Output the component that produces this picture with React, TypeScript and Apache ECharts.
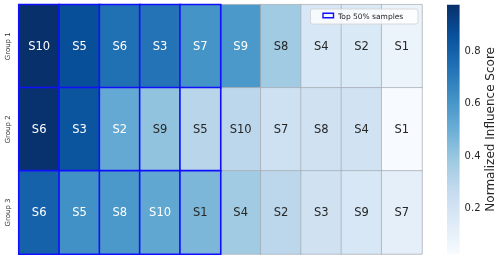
import React, { useEffect, useRef } from "react";
import * as echarts from "echarts";

const groups = ["Group 1", "Group 2", "Group 3"];
const samplesG1 = ["S10", "S5", "S6", "S3", "S7", "S9", "S8", "S4", "S2", "S1"];
const scoresG1 = [0.973, 0.86, 0.74, 0.73, 0.61, 0.59, 0.375, 0.17, 0.16, 0.08];
const samplesG2 = ["S6", "S3", "S2", "S9", "S5", "S10", "S7", "S8", "S4", "S1"];
const scoresG2 = [0.965, 0.84, 0.52, 0.41, 0.3, 0.29, 0.22, 0.21, 0.205, 0.024];
const samplesG3 = ["S6", "S5", "S8", "S10", "S1", "S4", "S2", "S3", "S9", "S7"];
const scoresG3 = [0.79, 0.62, 0.59, 0.53, 0.46, 0.37, 0.29, 0.21, 0.175, 0.11];
const topCount = 5;
const colorbarTicks = [0.2, 0.4, 0.6, 0.8];
const scoreMin = 0.024;
const scoreMax = 0.973;
const colorbarTitle = "Normalized Influence Score";
const legendLabel = "Top 50% samples";

const FONT = "DejaVu Sans";
const BLUES = ["#f7fbff", "#deebf7", "#c6dbef", "#9ecae1", "#6baed6", "#4292c6", "#2171b5", "#08519c", "#08306b"];

function hexToRgb(h: string) {
  return [parseInt(h.slice(1, 3), 16), parseInt(h.slice(3, 5), 16), parseInt(h.slice(5, 7), 16)];
}
function bluesAt(v: number) {
  let t = (v - scoreMin) / (scoreMax - scoreMin);
  t = Math.max(0, Math.min(1, t));
  const p = t * (BLUES.length - 1);
  const i = Math.min(BLUES.length - 2, Math.floor(p));
  const f = p - i;
  const a = hexToRgb(BLUES[i]);
  const b = hexToRgb(BLUES[i + 1]);
  return a.map((c, k) => c + (b[k] - c) * f);
}
function textColorFor(v: number) {
  const rgb = bluesAt(v).map((c) => {
    const s = c / 255;
    return s <= 0.03928 ? s / 12.92 : Math.pow((s + 0.055) / 1.055, 2.4);
  });
  const lum = 0.2126 * rgb[0] + 0.7152 * rgb[1] + 0.0722 * rgb[2];
  return lum > 0.408 ? "#262626" : "#ffffff";
}

export default function App() {
  const ref = useRef<HTMLDivElement>(null);
  useEffect(() => {
    if (!ref.current) return;
    const chart = echarts.init(ref.current, null, { renderer: "svg" });
    const rows = [
      [samplesG1, scoresG1],
      [samplesG2, scoresG2],
      [samplesG3, scoresG3],
    ] as [string[], number[]][];
    const normal: any[] = [];
    const top: any[] = [];
    rows.forEach(([names, vals], r) => {
      names.forEach((n, c) => {
        const isTop = c < topCount;
        const item = {
          name: n,
          value: [c, r, vals[c]],
          itemStyle: isTop
            ? { borderColor: "#1010ff", borderWidth: 1.6 }
            : { borderColor: "#a3a9b0", borderWidth: 0.7 },
          label: { color: textColorFor(vals[c]) },
        };
        (isTop ? top : normal).push(item);
      });
    });
    const gx = 19, gy = 4.7, gw = 403, gh = 249.3;
    const cbx = 447, cbw = 12.6;
    chart.setOption({
      animation: false,
      textStyle: { fontFamily: FONT },
      grid: [
        { left: gx, top: gy, width: gw, height: gh },
        { left: cbx, top: gy, width: cbw, height: gh },
      ],
      xAxis: [
        { type: "category", gridIndex: 0, data: samplesG1.map((_, i) => i), show: false },
        { type: "value", gridIndex: 1, show: false },
      ],
      yAxis: [
        {
          type: "category",
          gridIndex: 0,
          data: groups,
          inverse: true,
          axisLine: { show: false },
          axisTick: { show: false },
          axisLabel: { rotate: 90, fontSize: 7, color: "#333", margin: 8, fontFamily: FONT },
          splitLine: { show: false },
        },
        {
          type: "value",
          gridIndex: 1,
          position: "right",
          min: scoreMin,
          max: scoreMax,
          axisLine: { show: false },
          splitLine: { show: false },
          axisTick: { show: true, length: 3.5, customValues: colorbarTicks, lineStyle: { color: "#333", width: 0.8 } },
          axisLabel: {
            customValues: colorbarTicks,
            fontSize: 10,
            fontFamily: FONT,
            color: "#262626",
            margin: 5,
            formatter: (v: number) => v.toFixed(1),
          },
          name: colorbarTitle,
          nameLocation: "middle",
          nameRotate: 90,
          nameGap: 20,
          nameTextStyle: { fontSize: 12, color: "#262626", fontFamily: FONT },
        },
      ],
      visualMap: {
        show: false,
        seriesIndex: 0,
        dimension: 2,
        min: scoreMin,
        max: scoreMax,
        inRange: { color: BLUES },
      },
      series: [
        {
          type: "heatmap",
          xAxisIndex: 0,
          yAxisIndex: 0,
          data: [...normal, ...top],
          label: {
            show: true,
            fontSize: 11.5,
            fontFamily: FONT,
            formatter: (p: any) => p.name,
          },
          emphasis: { disabled: true },
        },
      ],
      graphic: [
        {
          type: "rect",
          z: 100,
          shape: { x: cbx, y: gy, width: cbw, height: gh },
          style: {
            fill: new echarts.graphic.LinearGradient(
              0, 0, 0, 1,
              BLUES.slice().reverse().map((c, i) => ({ offset: i / (BLUES.length - 1), color: c }))
            ),
          },
        },
        {
          type: "rect",
          z: 100,
          shape: { x: 310.5, y: 9, width: 107.5, height: 15, r: 2 },
          style: { fill: "rgba(255,255,255,0.8)", stroke: "#d0d0d0", lineWidth: 0.8 },
        },
        {
          type: "rect",
          z: 101,
          shape: { x: 323, y: 13.2, width: 10.5, height: 4.5 },
          style: { fill: "rgba(255,255,255,0)", stroke: "#1010ff", lineWidth: 1.4 },
        },
        {
          type: "text",
          z: 101,
          x: 338,
          y: 16,
          style: {
            text: legendLabel,
            fontSize: 7.5,
            fontFamily: FONT,
            fill: "#262626",
            verticalAlign: "middle",
          },
        },
      ],
    });
    return () => chart.dispose();
  }, []);
  return <div ref={ref} style={{ position: "fixed", left: 0, top: 0, width: 500, height: 259 }} />;
}
